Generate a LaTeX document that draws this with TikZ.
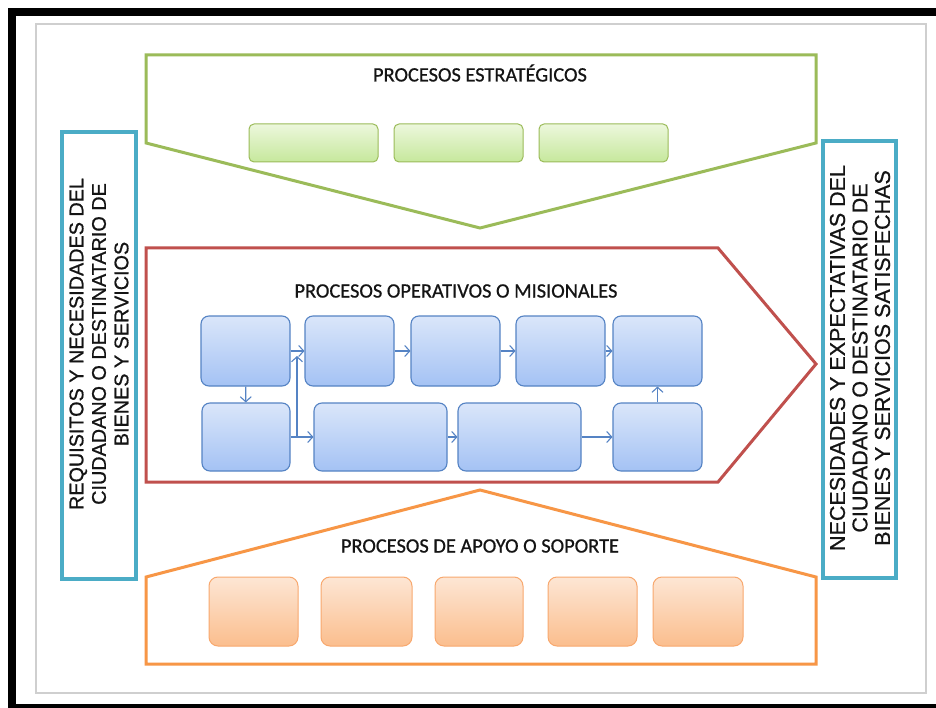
\documentclass[tikz,border=0pt]{standalone}
\usepackage{fontspec}
\setmainfont{Carlito}[FakeBold=0.7]
\newfontfamily\titlef{Carlito}[FakeBold=0.7]
\newfontfamily\arialf{Liberation Sans}[FakeBold=0.7]
\usetikzlibrary{arrows.meta}
\definecolor{cgreen}{HTML}{9BBB59}
\definecolor{cred}{HTML}{C0504D}
\definecolor{corange}{HTML}{F79646}
\definecolor{ccyan}{HTML}{4BACC6}
\definecolor{cblue}{HTML}{5583C4}
\definecolor{cgrey}{HTML}{CFCFCF}
\definecolor{ctext}{HTML}{141414}
\tikzset{
  bluebox/.style={draw=cblue, line width=1.1pt, rounded corners=8pt, top color={rgb,255:red,218;green,230;blue,250}, bottom color={rgb,255:red,164;green,194;blue,244}, minimum height=70pt, minimum width=89pt, inner sep=0pt},
  greenbox/.style={draw=cgreen, line width=1pt, rounded corners=5pt, top color={rgb,255:red,236;green,247;blue,220}, bottom color={rgb,255:red,198;green,232;blue,156}, minimum height=38pt, minimum width=129pt, inner sep=0pt},
  orangebox/.style={draw={rgb,255:red,248;green,168;blue,110}, line width=1pt, rounded corners=9pt, top color={rgb,255:red,253;green,230;blue,212}, bottom color={rgb,255:red,251;green,190;blue,142}, minimum height=69pt, minimum width=89pt, inner sep=0pt},
  flow/.style={draw=cblue, line width=1.1pt, -{Straight Barb[length=5pt,width=11pt]}},
  titletext/.style={font=\titlef\fontsize{20.4}{24}\selectfont, text=ctext, inner sep=0pt},
  sidetext/.style={rotate=90, align=center, text=ctext, inner sep=0pt}
}
\begin{document}
\begin{tikzpicture}[x=1pt,y=-1pt]
\useasboundingbox (0,0) rectangle (936,708);
\clip (0,0) rectangle (936,708);
\fill[white] (0,0) rectangle (936,708);
% frames
\draw[line width=8pt] (950,12) -- (12,12) -- (12,708) -- (950,708);
\draw[cgrey, line width=1.3pt] (36,24) rectangle (926,693);
% green pentagon
\draw[cgreen, line width=3pt, line join=miter] (146,55) -- (816,55) -- (816,143) -- (480,228) -- (146,143) -- cycle;
% red arrow
\draw[cred, line width=3pt, line join=miter] (146,248) -- (718,248) -- (816,364) -- (718,482) -- (146,482) -- cycle;
% orange pentagon
\draw[corange, line width=3pt, line join=miter] (480,490) -- (816,577) -- (816,664) -- (146,664) -- (146,577) -- cycle;
% cyan boxes
\draw[ccyan, line width=4pt] (62,132) rectangle (136,579);
\draw[ccyan, line width=4pt] (823,141) rectangle (896,578);
% titles
\node[titletext] (t1) at (480,73) {PROCESOS ESTRATÉGICOS};
\node[titletext] (t2) at (456,291) {PROCESOS OPERATIVOS O MISIONALES};
\node[titletext] (t3) at (480,546) {PROCESOS DE APOYO O SOPORTE};
% side texts
\node[sidetext, font=\arialf\fontsize{19.8}{22.5}\selectfont] (sl) at (99,344) {REQUISITOS Y NECESIDADES DEL\\CIUDADANO O DESTINATARIO DE\\BIENES Y SERVICIOS};
\node[sidetext, font=\arialf\fontsize{21.5}{22.5}\selectfont] (sr) at (860,358) {NECESIDADES Y EXPECTATIVAS DEL\\CIUDADANO O DESTINATARIO DE\\BIENES Y SERVICIOS SATISFECHAS};
% green boxes
\node[greenbox] (g1) at (313.5,143) {};
\node[greenbox] (g2) at (458.5,143) {};
\node[greenbox] (g3) at (603.5,143) {};
% blue boxes
\node[bluebox] (b1) at (245.5,351) {};
\node[bluebox] (b2) at (349.5,351) {};
\node[bluebox] (b3) at (455.5,351) {};
\node[bluebox] (b4) at (560.5,351) {};
\node[bluebox] (b5) at (657.5,351) {};
\node[bluebox, minimum height=68pt, minimum width=88pt] (b6) at (246,437) {};
\node[bluebox, minimum height=68pt, minimum width=133pt] (b7) at (380.5,437) {};
\node[bluebox, minimum height=68pt, minimum width=123pt] (b8) at (519.5,437) {};
\node[bluebox, minimum height=68pt, minimum width=89pt] (b9) at (657.5,437) {};
% orange boxes
\node[orangebox] (o1) at (253.5,611.5) {};
\node[orangebox, minimum width=91pt] (o2) at (366.5,611.5) {};
\node[orangebox, minimum width=88pt] (o3) at (479,611.5) {};
\node[orangebox] (o4) at (592.5,611.5) {};
\node[orangebox, minimum width=90pt] (o5) at (698,611.5) {};
% flows
\draw[flow] (b1) -- (b2);
\draw[flow] (b2) -- (b3);
\draw[flow] (b3) -- (b4);
\draw[flow] (b4) -- (b5);
\draw[flow] (b1) -- (b6);
\draw[flow] (b6) -- (b7);
\draw[flow] (b7) -- (b8);
\draw[flow] (b8) -- (b9);
\draw[flow] (b9) -- (b5);
\coordinate (jb) at (297,437);
\coordinate (jt) at (297,356);
\draw[flow] (jb) -- (jt);
\end{tikzpicture}
\end{document}
